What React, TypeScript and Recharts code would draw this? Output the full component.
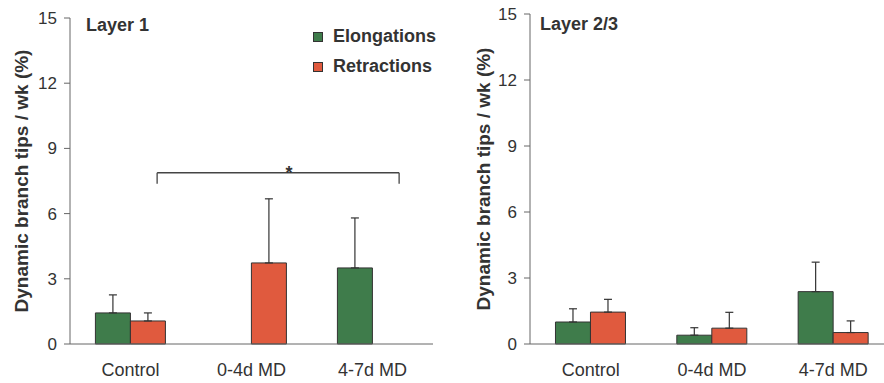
import React from 'react';
import { BarChart, Bar, XAxis, YAxis, ErrorBar, ReferenceLine, ReferenceDot, Legend } from 'recharts';

const groups = ['Control', '0-4d MD', '4-7d MD'];
const groupPos = [0.5, 1.5, 2.5];
const yTicks = [0, 3, 6, 9, 12, 15];
const boundaryTicks = [0, 1, 2, 3];

// Layer 1
const l1Elong = [1.43, 0, 3.5];
const l1ElongErr = [0.83, 0, 2.3];
const l1Retr = [1.06, 3.73, 0];
const l1RetrErr = [0.37, 2.95, 0];

// Layer 2/3
const l23Elong = [1.0, 0.4, 2.38];
const l23ElongErr = [0.6, 0.34, 1.34];
const l23Retr = [1.45, 0.72, 0.52];
const l23RetrErr = [0.58, 0.72, 0.53];

// significance bracket (Layer 1), x in band units
const sigFrom = 0.72;
const sigTo = 2.72;
const sigY = 7.88;
const sigDrop = 7.37;
const sigStarX = 1.81;

const GREEN = '#3f7c4b';
const RED = '#e05a3e';
const OUTLINE = '#333';
const AXIS = '#666';
const TEXT = '#333';
const FONT = '"Liberation Sans", Arial, sans-serif';

const toRows = (e: number[], eErr: number[], r: number[], rErr: number[]) =>
  groups.map((g, i) => ({ group: g, pos: groupPos[i], elong: e[i], elongErr: eErr[i], retr: r[i], retrErr: rErr[i] }));

const layer1 = toRows(l1Elong, l1ElongErr, l1Retr, l1RetrErr);
const layer23 = toRows(l23Elong, l23ElongErr, l23Retr, l23RetrErr);

const upErr = (key: 'elongErr' | 'retrErr') => (d: any) => (d[key] ? [0, d[key]] : null);

const LegendBox = ({ payload }: any) => (
  <div style={{ fontFamily: FONT, fontWeight: 'bold', fontSize: 18, color: TEXT }}>
    {(payload || []).map((p: any) => (
      <div key={p.value} style={{ lineHeight: '30px', whiteSpace: 'nowrap' }}>
        <span style={{ display: 'inline-block', width: 8, height: 8, background: p.color, border: `1px solid ${OUTLINE}`, marginRight: 10, verticalAlign: 'baseline' }} />
        {p.value}
      </div>
    ))}
  </div>
);

function Panel({ data, width, margin, labelDx, withLegend, withSig }: any) {
  return (
    <BarChart width={width} height={383} data={data} margin={margin} barCategoryGap="21%" barGap={0}>
      <XAxis xAxisId="labels" dataKey="group" height={29} axisLine={false} tickLine={false} tickSize={0} tickMargin={18} tick={{ fill: TEXT, fontSize: 18, fontFamily: FONT }} />
      <XAxis xAxisId="axis0" dataKey="pos" type="number" scale="linear" domain={[0, 3]} ticks={boundaryTicks} tick={false} height={1} allowDataOverflow axisLine={{ stroke: AXIS }} tickLine={{ stroke: AXIS }} tickSize={6} />
      <YAxis
        domain={[0, 15]}
        ticks={yTicks}
        width={60}
        tickSize={6}
        tickMargin={7}
        axisLine={{ stroke: AXIS }}
        tickLine={{ stroke: AXIS }}
        tick={{ fill: TEXT, fontSize: 17, fontFamily: FONT }}
        label={{ value: 'Dynamic branch tips / wk (%)', angle: -90, position: 'center', dx: labelDx, style: { fill: TEXT, fontSize: 19, fontWeight: 'bold', fontFamily: FONT } }}
      />
      {withLegend && (
        <Legend layout="vertical" align="center" verticalAlign="middle" content={<LegendBox />} wrapperStyle={{ left: 313, top: 21, width: 140, height: 60 }} />
      )}
      <Bar xAxisId="labels" dataKey="elong" name="Elongations" fill={GREEN} stroke={OUTLINE} strokeWidth={1} isAnimationActive={false}>
        <ErrorBar dataKey={upErr('elongErr')} width={4} stroke={OUTLINE} strokeWidth={1.2} />
      </Bar>
      <Bar xAxisId="labels" dataKey="retr" name="Retractions" fill={RED} stroke={OUTLINE} strokeWidth={1} isAnimationActive={false}>
        <ErrorBar dataKey={upErr('retrErr')} width={4} stroke={OUTLINE} strokeWidth={1.2} />
      </Bar>
      {withSig && (
        <>
          <ReferenceLine xAxisId="axis0" segment={[{ x: sigFrom, y: sigDrop }, { x: sigFrom, y: sigY }]} stroke="#444" strokeWidth={1.3} />
          <ReferenceLine xAxisId="axis0" segment={[{ x: sigFrom, y: sigY }, { x: sigTo, y: sigY }]} stroke="#444" strokeWidth={1.3} />
          <ReferenceLine xAxisId="axis0" segment={[{ x: sigTo, y: sigY }, { x: sigTo, y: sigDrop }]} stroke="#444" strokeWidth={1.3} />
          <ReferenceDot xAxisId="axis0" x={sigStarX} y={sigY} r={0} label={{ value: '*', position: 'center', fill: TEXT, fontSize: 18, fontWeight: 'bold', fontFamily: FONT }} />
        </>
      )}
    </BarChart>
  );
}

const titleStyle: React.CSSProperties = { position: 'absolute', fontFamily: FONT, fontWeight: 'bold', fontSize: 18, lineHeight: '18px', color: TEXT };

export default function App() {
  return (
    <div style={{ position: 'absolute', left: 0, top: 0, width: 884, height: 383, overflow: 'hidden', background: '#fff' }}>
      <div style={{ position: 'absolute', left: 0, top: 0 }}>
        <Panel data={layer1} width={450} margin={{ top: 18, right: 17, bottom: 9, left: 10 }} labelDx={-18.5} withLegend withSig />
      </div>
      <div style={{ position: 'absolute', left: 440, top: 0 }}>
        <Panel data={layer23} width={455} margin={{ top: 14, right: 1, bottom: 9, left: 30 }} labelDx={-17} />
      </div>
      <div style={{ ...titleStyle, left: 86, top: 16 }}>Layer 1</div>
      <div style={{ ...titleStyle, left: 540, top: 15 }}>Layer 2/3</div>
    </div>
  );
}
